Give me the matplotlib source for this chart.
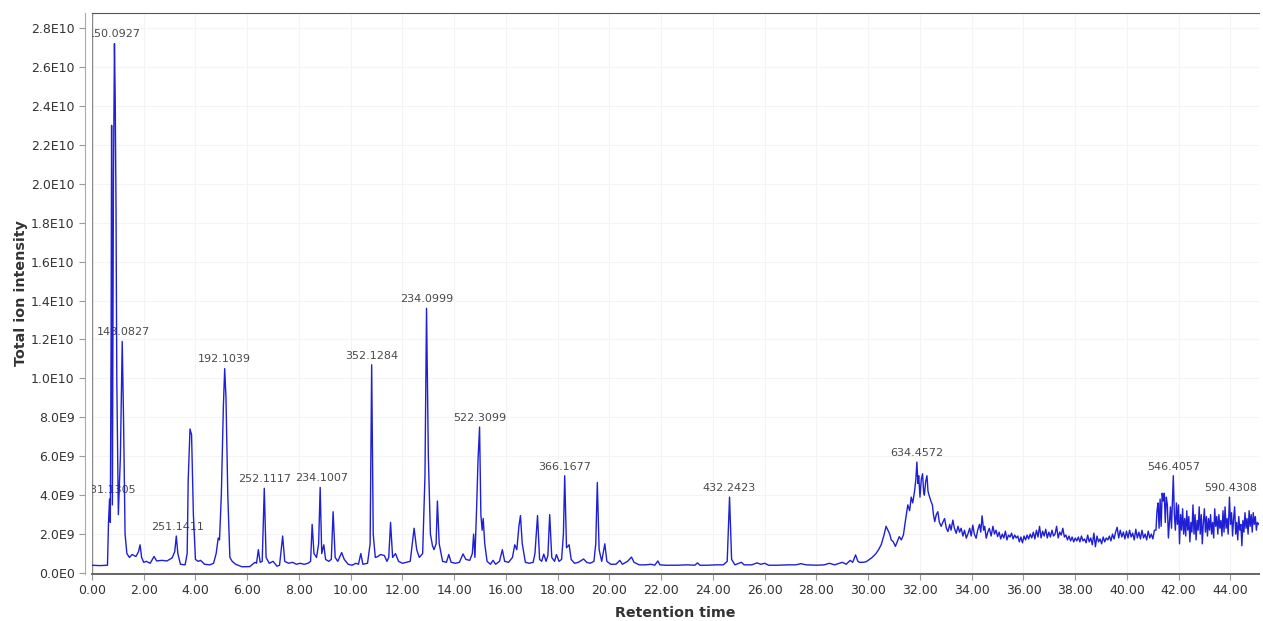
import matplotlib
matplotlib.use("Agg")
import matplotlib.pyplot as plt
import numpy as np


# retention time (min) and total ion intensity (x1e9)
TIMES = [
    0.00, 0.30, 0.60, 0.64, 0.68, 0.71, 0.74, 0.76, 0.79, 0.83, 0.87, 0.90, 0.93, 0.96,
    1.02, 1.10, 1.17, 1.22, 1.28, 1.35, 1.45, 1.55, 1.70, 1.80, 1.86, 1.92, 2.00, 2.10,
    2.25, 2.40, 2.50, 2.70, 2.90, 3.10, 3.20, 3.26, 3.32, 3.42, 3.60, 3.68, 3.72, 3.79,
    3.85, 3.92, 4.00, 4.10, 4.20, 4.35, 4.55, 4.70, 4.80, 4.88, 4.93, 5.00, 5.08, 5.13,
    5.18, 5.25, 5.33, 5.42, 5.55, 5.80, 6.10, 6.30, 6.36, 6.43, 6.50, 6.58, 6.66, 6.73,
    6.85, 7.00, 7.15, 7.25, 7.37, 7.45, 7.60, 7.75, 7.90, 8.05, 8.20, 8.35, 8.45, 8.51,
    8.58, 8.68, 8.76, 8.82, 8.88, 8.96, 9.03, 9.15, 9.25, 9.32, 9.40, 9.50, 9.65, 9.75,
    9.90, 10.05, 10.20, 10.30, 10.39, 10.47, 10.65, 10.75, 10.81, 10.87, 10.95, 11.05,
    11.15, 11.30, 11.40, 11.47, 11.54, 11.62, 11.73, 11.85, 12.00, 12.15, 12.30, 12.45,
    12.55, 12.65, 12.78, 12.87, 12.93, 13.00, 13.08, 13.16, 13.22, 13.30, 13.35, 13.42,
    13.55, 13.70, 13.79, 13.88, 14.05, 14.20, 14.34, 14.45, 14.60, 14.70, 14.75, 14.80,
    14.87, 14.92, 14.98, 15.03, 15.08, 15.12, 15.18, 15.27, 15.40, 15.50, 15.60, 15.75,
    15.86, 15.95, 16.10, 16.25, 16.34, 16.42, 16.50, 16.56, 16.63, 16.75, 16.90, 17.05,
    17.12, 17.22, 17.30, 17.38, 17.46, 17.55, 17.62, 17.69, 17.77, 17.88, 17.95, 18.05,
    18.15, 18.22, 18.27, 18.34, 18.44, 18.52, 18.65, 18.80, 19.00, 19.12, 19.25, 19.40,
    19.47, 19.53, 19.60, 19.70, 19.82, 19.90, 20.05, 20.25, 20.40, 20.50, 20.70, 20.85,
    20.95, 21.15, 21.40, 21.60, 21.75, 21.87, 21.95, 22.20, 22.60, 23.00, 23.30, 23.40,
    23.50, 23.80, 24.10, 24.40, 24.55, 24.64, 24.72, 24.85, 25.10, 25.20, 25.50, 25.70,
    25.85, 26.00, 26.15, 26.50, 26.90, 27.20, 27.40, 27.60, 28.00, 28.30, 28.50, 28.70,
    29.00, 29.15, 29.30, 29.40, 29.51, 29.60, 29.66, 29.80, 29.92, 30.05, 30.15, 30.30,
    30.40, 30.50, 30.60, 30.69, 30.76, 30.83, 30.89, 30.97, 31.05, 31.12, 31.20, 31.28,
    31.36, 31.45, 31.53, 31.60, 31.66, 31.72, 31.79, 31.84, 31.88, 31.92, 31.95, 32.00,
    32.05, 32.10, 32.14, 32.17, 32.22, 32.27, 32.31, 32.35, 32.42, 32.48, 32.52, 32.57,
    32.63, 32.69, 32.75, 32.82, 32.88, 32.95, 33.02, 33.08, 33.15, 33.20, 33.27, 33.33,
    33.40, 33.47, 33.53, 33.59, 33.66, 33.72, 33.79, 33.85, 33.92, 33.98, 34.04, 34.10,
    34.17, 34.23, 34.30, 34.35, 34.40, 34.46, 34.50, 34.56, 34.62, 34.68, 34.75, 34.82,
    34.88, 34.94, 35.00,
    35.06, 35.12, 35.18, 35.24, 35.30, 35.36, 35.42, 35.48, 35.54, 35.60, 35.66, 35.72,
    35.78, 35.84, 35.90, 35.96, 36.02, 36.08, 36.14, 36.20, 36.26, 36.32, 36.38, 36.44,
    36.50, 36.56, 36.62, 36.68, 36.74, 36.80, 36.86, 36.92, 36.98, 37.04, 37.10, 37.16,
    37.22, 37.28, 37.34, 37.40, 37.46, 37.52, 37.58, 37.64, 37.70, 37.76, 37.82, 37.88,
    37.94, 38.00, 38.06, 38.12, 38.18, 38.24, 38.30, 38.36, 38.42, 38.48, 38.54, 38.60,
    38.66, 38.72, 38.78, 38.84, 38.90, 38.96, 39.02, 39.08, 39.14, 39.20, 39.26, 39.32,
    39.38, 39.44, 39.50, 39.56, 39.62, 39.68, 39.74, 39.80, 39.86, 39.92, 39.98, 40.04,
    40.10, 40.16, 40.22, 40.28, 40.34, 40.40, 40.46, 40.52, 40.58, 40.64, 40.70, 40.76,
    40.82, 40.88, 40.94, 41.00, 41.06,
    41.12, 41.16, 41.20, 41.24, 41.28, 41.32, 41.36, 41.40, 41.44, 41.48, 41.52, 41.56,
    41.60, 41.64, 41.68, 41.72, 41.79, 41.83, 41.87, 41.91, 41.95, 41.99, 42.03, 42.07,
    42.11, 42.15, 42.19, 42.23, 42.27, 42.31, 42.35, 42.39, 42.43, 42.47, 42.51, 42.55,
    42.59, 42.63, 42.67, 42.71, 42.75, 42.79, 42.83, 42.87, 42.91, 42.95, 42.99, 43.03,
    43.07, 43.11, 43.15, 43.19, 43.23, 43.27, 43.31, 43.35, 43.39, 43.43, 43.47, 43.51,
    43.55, 43.59, 43.63, 43.67, 43.71, 43.75, 43.79, 43.83, 43.87, 43.91, 43.96, 44.00,
    44.04, 44.08, 44.12, 44.16, 44.20, 44.24, 44.28, 44.32, 44.36, 44.40, 44.44, 44.48,
    44.52, 44.56, 44.60, 44.64, 44.68, 44.72, 44.76, 44.80, 44.84, 44.88, 44.92, 44.96,
    45.00, 45.04, 45.10,
]

INTENSITY = [
    0.40, 0.38, 0.40, 2.6, 3.8, 2.6, 12.0, 23.0, 3.5, 20.0, 27.2, 24.2, 18.7, 10.0,
    3.0, 6.0, 11.9, 8.0, 2.0, 1.0, 0.8, 0.95, 0.85, 1.1, 1.45, 0.8, 0.55, 0.6,
    0.5, 0.85, 0.62, 0.65, 0.62, 0.78, 1.1, 1.9, 1.0, 0.45, 0.42, 1.0, 4.8, 7.4,
    7.1, 3.0, 0.7, 0.6, 0.65, 0.45, 0.42, 0.5, 1.0, 1.8, 1.7, 4.0, 8.6, 10.5,
    9.0, 4.0, 0.8, 0.6, 0.45, 0.32, 0.33, 0.55, 0.5, 1.2, 0.55, 0.6, 4.35, 0.8,
    0.5, 0.6, 0.35, 0.4, 1.9, 0.6, 0.5, 0.55, 0.45, 0.5, 0.45, 0.5, 0.6, 2.5,
    1.0, 0.8, 1.5, 4.4, 1.0, 1.45, 0.7, 0.6, 0.7, 3.15, 0.8, 0.6, 1.05, 0.7,
    0.45, 0.4, 0.5, 0.45, 1.0, 0.45, 0.5, 1.5, 10.7, 2.0, 0.8, 0.85,
    0.95, 0.9, 0.6, 0.8, 2.6, 0.8, 1.0, 0.6, 0.5, 0.55, 0.6, 2.3,
    1.2, 0.8, 1.0, 5.0, 13.6, 6.0, 2.0, 1.4, 1.2, 1.5, 3.7, 1.5,
    0.6, 0.55, 0.95, 0.55, 0.5, 0.55, 0.98, 0.7, 0.65, 1.0, 2.0, 0.8,
    3.5, 5.8, 7.5, 3.0, 2.2, 2.8, 1.5, 0.6, 0.45, 0.65, 0.45, 0.6,
    1.2, 0.6, 0.55, 0.8, 1.45, 1.2, 2.4, 2.95, 1.5, 0.55, 0.5, 0.55,
    1.0, 2.95, 0.7, 0.6, 0.97, 0.6, 0.9, 3.0, 0.8, 0.6, 0.95, 0.6,
    0.7, 2.0, 5.0, 1.3, 1.45, 0.7, 0.5, 0.55, 0.72, 0.55, 0.5, 0.6,
    1.5, 4.65, 1.2, 0.6, 1.5, 0.6, 0.45, 0.45, 0.65, 0.45, 0.6, 0.82,
    0.55, 0.42, 0.42, 0.45, 0.4, 0.62, 0.42, 0.4, 0.4, 0.42, 0.4, 0.52,
    0.4, 0.4, 0.42, 0.42, 0.6, 3.9, 0.7, 0.42, 0.55, 0.42, 0.42, 0.52,
    0.45, 0.5, 0.4, 0.4, 0.42, 0.42, 0.48, 0.42, 0.4, 0.42, 0.5, 0.42,
    0.55, 0.45, 0.65, 0.55, 0.93, 0.6, 0.55, 0.55, 0.58, 0.7, 0.8, 1.0,
    1.2, 1.45, 1.9, 2.4, 2.2, 2.0, 1.7, 1.6, 1.37, 1.6, 1.87, 1.7,
    1.96, 2.8, 3.5, 3.2, 3.9, 3.6, 4.2, 4.8, 5.7, 4.6, 5.0, 3.9,
    4.8, 5.1, 4.2, 4.0, 4.7, 5.0, 4.2, 4.0, 3.7, 3.5, 3.0, 2.64,
    3.0, 3.15, 2.6, 2.4, 2.6, 2.8, 2.3, 2.13, 2.5, 2.2, 2.72, 2.3,
    2.04, 2.4, 2.1, 2.3, 1.9, 2.2, 1.79, 2.0, 2.3, 1.9, 2.46, 2.0,
    1.79, 2.2, 2.5, 2.1, 2.94, 2.2, 2.4, 1.79, 2.1, 2.3, 1.9, 2.4,
    2.0, 2.2, 1.87,
    2.1, 1.75, 2.0, 1.8, 2.15, 1.7, 1.95, 1.85, 2.05, 1.75, 1.95, 1.8,
    1.9, 1.6, 1.85, 1.55, 1.9, 1.7, 1.95, 1.75, 2.0, 1.8, 2.1, 1.75,
    2.2, 1.85, 2.4, 1.8, 2.15, 1.9, 2.25, 1.8, 2.1, 1.85, 2.2, 1.9,
    2.0, 2.4, 1.8, 2.1, 1.95, 2.3, 1.85, 1.95, 1.7, 1.9, 1.65, 1.85,
    1.6, 1.8, 1.65, 1.85, 1.6, 1.9, 1.65, 1.75, 1.55, 1.95, 1.6, 1.8,
    1.45, 2.05, 1.35, 1.9, 1.6, 1.75, 1.5, 1.85, 1.6, 1.8, 1.7, 1.9,
    1.65, 2.0, 1.75, 2.1, 2.35, 1.8, 2.2, 1.85, 2.1, 1.75, 2.15, 1.8,
    2.2, 1.85, 2.05, 1.7, 2.25, 1.8, 2.1, 1.75, 2.2, 1.8, 2.0, 1.7,
    2.15, 1.8, 2.0, 1.75, 2.2,
    2.2, 3.2, 3.6, 2.3, 3.8, 2.4, 4.1, 3.7, 4.1, 2.6, 3.9, 3.5,
    1.8, 2.6, 3.4, 2.3, 5.0, 3.0, 2.2, 3.6, 2.5, 3.5, 1.5, 3.0,
    2.2, 3.3, 2.0, 2.8, 1.9, 3.2, 2.2, 2.9, 1.6, 2.6, 2.1, 3.5,
    2.0, 3.0, 1.7, 2.7, 2.2, 3.4, 2.0, 3.0, 1.5, 2.6, 3.3, 2.1,
    2.9, 1.9, 2.8, 2.2, 3.0, 2.0, 2.6, 1.8, 3.3, 2.4, 2.9, 2.0,
    3.0, 2.3, 2.7, 1.9, 3.2, 2.1, 3.4, 2.3, 2.8, 2.0, 3.9, 2.5,
    3.1, 1.9, 2.8, 3.4, 2.0, 2.6, 1.7, 2.9, 2.2, 2.5, 1.4, 2.7,
    2.1, 3.1, 2.3, 2.8, 2.0, 3.2, 2.4, 3.0, 2.1, 3.1, 2.5, 2.9,
    2.2, 2.6, 2.5,
]

# labelled peaks: m/z text, retention time, apex intensity (x1e9)
PEAK_LABELS = ["131.1305", "150.0927", "148.0827", "251.1411", "192.1039", "252.1117",
               "234.1007", "352.1284", "234.0999", "522.3099", "366.1677", "432.2423",
               "634.4572", "546.4057", "590.4308"]
PEAK_TIMES = [0.70, 0.87, 1.23, 3.30, 5.13, 6.66, 8.88, 10.81, 12.93, 14.98, 18.27, 24.64,
              31.88, 41.79, 44.02]
PEAK_HEIGHTS = [3.8, 27.2, 11.9, 1.9, 10.5, 4.35, 4.4, 10.7, 13.6, 7.5, 5.0, 3.9,
                5.7, 5.0, 3.9]

X_TICKS = np.arange(0, 46, 2)
Y_TICKS = np.arange(0, 29, 2) * 1e9
Y_TICK_LABELS = ["0.0E0", "2.0E9", "4.0E9", "6.0E9", "8.0E9", "1.0E10", "1.2E10", "1.4E10",
                 "1.6E10", "1.8E10", "2.0E10", "2.2E10", "2.4E10", "2.6E10", "2.8E10"]


def plot():
    fig = plt.figure(figsize=(12.63, 6.21), dpi=100)
    ax = fig.add_axes([0.0728, 0.0757, 0.9240, 0.9033])

    t = np.array(TIMES)
    y = np.array(INTENSITY) * 1e9
    ax.plot(t, y, color="#1f1fd6", linewidth=1.0, zorder=3)

    for label, pt, ph in zip(PEAK_LABELS, PEAK_TIMES, PEAK_HEIGHTS):
        ax.annotate(label, xy=(pt, ph * 1e9), xytext=(0, 3), textcoords="offset points",
                    ha="center", va="bottom", fontsize=8, color="#4a4a4a",
                    annotation_clip=False, clip_on=True, zorder=2)

    ax.set_xlim(0, 45.1)
    ax.set_ylim(-0.05e9, 2.877e10)
    ax.set_xticks(X_TICKS)
    ax.set_xticklabels(["%.2f" % v for v in X_TICKS])
    ax.set_yticks(Y_TICKS)
    ax.set_yticklabels(Y_TICK_LABELS)
    ax.tick_params(labelsize=9, colors="#333333", length=4, width=0.8)
    ax.tick_params(axis="both", color="#999999")

    # grid is barely visible in the original
    ax.grid(True, color="#f4f4f4", linewidth=0.8)
    ax.set_axisbelow(True)

    ax.spines["right"].set_visible(False)
    ax.spines["top"].set_color("#555555")
    ax.spines["bottom"].set_color("#666666")
    ax.spines["bottom"].set_linewidth(1.4)
    ax.spines["left"].set_color("#aaaaaa")
    ax.spines["left"].set_position(("outward", 5))
    ax.axvline(0, color="#888888", linewidth=1.0, zorder=1)

    ax.set_xlabel("Retention time", fontsize=10.3, fontweight="bold", color="#333333",
                  labelpad=6)
    ax.set_ylabel("Total ion intensity", fontsize=10.3, fontweight="bold", color="#333333",
                  labelpad=2)

    fig.savefig("out.png", dpi=100)


def main():
    plot()


if __name__ == '__main__':
    main()
